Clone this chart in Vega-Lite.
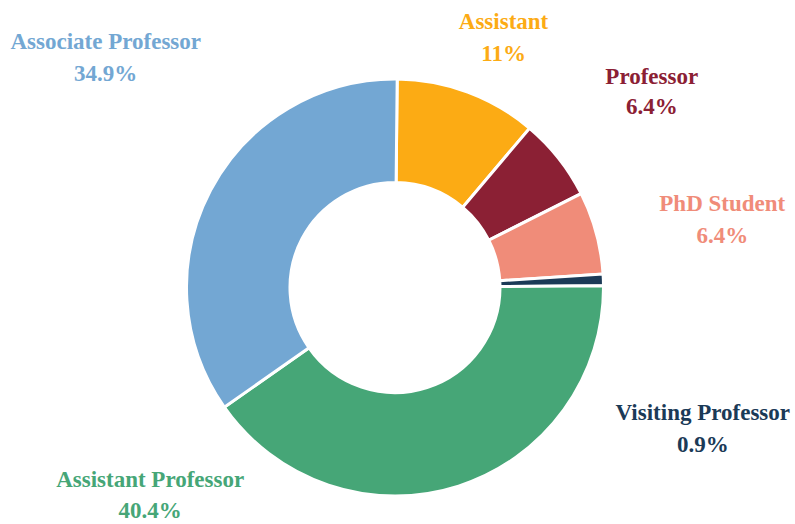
{
  "$schema": "https://vega.github.io/schema/vega-lite/v6.json",
  "width": 790,
  "height": 473,
  "autosize": {"type": "none"},
  "padding": {"left": 0, "top": 51, "right": 5, "bottom": 0},
  "background": "white",
  "config": {"view": {"stroke": null}},
  "data": {"values": [
    {"category": "Assistant", "pct": 11, "rank": 1},
    {"category": "Professor", "pct": 6.4, "rank": 2},
    {"category": "PhD Student", "pct": 6.4, "rank": 3},
    {"category": "Visiting Professor", "pct": 0.9, "rank": 4},
    {"category": "Assistant Professor", "pct": 40.4, "rank": 5},
    {"category": "Associate Professor", "pct": 34.9, "rank": 6}
  ]},
  "transform": [
    {"window": [{"op": "sum", "field": "pct", "as": "cum"}], "sort": [{"field": "rank", "order": "ascending"}], "frame": [null, 0]},
    {"calculate": "datum.cum - datum.pct", "as": "start"},
    {"calculate": "datum.cum - datum.pct / 2", "as": "mid"},
    {"calculate": "datum.category + '|' + datum.pct + '%'", "as": "txt"}
  ],
  "encoding": {
    "color": {
      "field": "category", "type": "nominal", "legend": null,
      "scale": {
        "domain": ["Assistant", "Professor", "PhD Student", "Visiting Professor", "Assistant Professor", "Associate Professor"],
        "range": ["#FCAB14", "#8B2034", "#F08C79", "#1B3A57", "#46A677", "#73A7D3"]
      }
    }
  },
  "layer": [
    {
      "mark": {"type": "arc", "innerRadius": 105, "outerRadius": 208.5, "stroke": "white", "strokeWidth": 3},
      "encoding": {
        "theta": {"field": "start", "type": "quantitative", "scale": {"domain": [0, 100], "range": [0.0105, 6.2937]}, "stack": null},
        "theta2": {"field": "cum"}
      }
    },
    {
      "transform": [{"filter": "datum.category == 'Assistant'"}],
      "mark": {"type": "text", "radius": 274, "dx": 13, "dy": -9, "font": "Liberation Serif", "fontWeight": "bold", "fontSize": 23, "lineBreak": "|", "lineHeight": 32, "align": "center", "baseline": "middle"},
      "encoding": {"theta": {"field": "mid", "type": "quantitative", "scale": {"domain": [0, 100], "range": [0.0105, 6.2937]}, "stack": null}, "text": {"field": "txt"}}
    },
    {
      "transform": [{"filter": "datum.category == 'Professor'"}],
      "mark": {"type": "text", "radius": 322, "dx": 4, "dy": -11, "font": "Liberation Serif", "fontWeight": "bold", "fontSize": 23, "lineBreak": "|", "lineHeight": 30, "align": "center", "baseline": "middle"},
      "encoding": {"theta": {"field": "mid", "type": "quantitative", "scale": {"domain": [0, 100], "range": [0.0105, 6.2937]}, "stack": null}, "text": {"field": "txt"}}
    },
    {
      "transform": [{"filter": "datum.category == 'PhD Student'"}],
      "mark": {"type": "text", "radius": 334, "dx": 5, "dy": 4, "font": "Liberation Serif", "fontWeight": "bold", "fontSize": 23, "lineBreak": "|", "lineHeight": 32, "align": "center", "baseline": "middle"},
      "encoding": {"theta": {"field": "mid", "type": "quantitative", "scale": {"domain": [0, 100], "range": [0.0105, 6.2937]}, "stack": null}, "text": {"field": "txt"}}
    },
    {
      "transform": [{"filter": "datum.category == 'Visiting Professor'"}],
      "mark": {"type": "text", "radius": 310, "dx": -2, "dy": 137, "font": "Liberation Serif", "fontWeight": "bold", "fontSize": 23, "lineBreak": "|", "lineHeight": 32, "align": "center", "baseline": "middle"},
      "encoding": {"theta": {"field": "mid", "type": "quantitative", "scale": {"domain": [0, 100], "range": [0.0105, 6.2937]}, "stack": null}, "text": {"field": "txt"}}
    },
    {
      "transform": [{"filter": "datum.category == 'Assistant Professor'"}],
      "mark": {"type": "text", "radius": 230, "dx": -315, "dy": -27, "font": "Liberation Serif", "fontWeight": "bold", "fontSize": 23, "lineBreak": "|", "lineHeight": 31, "align": "center", "baseline": "middle"},
      "encoding": {"theta": {"field": "mid", "type": "quantitative", "scale": {"domain": [0, 100], "range": [0.0105, 6.2937]}, "stack": null}, "text": {"field": "txt"}}
    },
    {
      "transform": [{"filter": "datum.category == 'Associate Professor'"}],
      "mark": {"type": "text", "radius": 362, "dx": 31, "dy": -77, "font": "Liberation Serif", "fontWeight": "bold", "fontSize": 23, "lineBreak": "|", "lineHeight": 32, "align": "center", "baseline": "middle"},
      "encoding": {"theta": {"field": "mid", "type": "quantitative", "scale": {"domain": [0, 100], "range": [0.0105, 6.2937]}, "stack": null}, "text": {"field": "txt"}}
    }
  ]
}
